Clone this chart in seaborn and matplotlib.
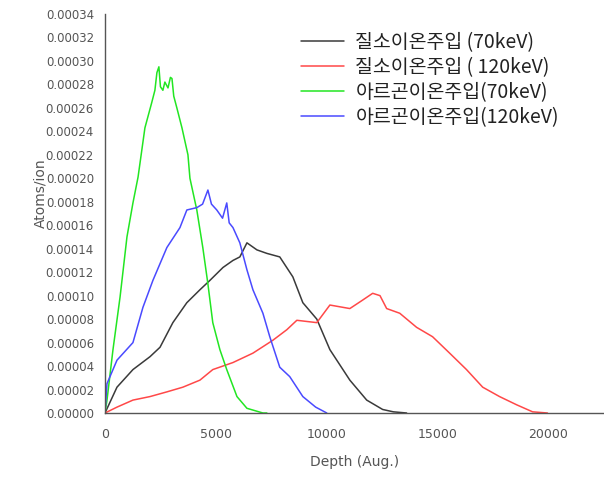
import matplotlib
matplotlib.use("Agg")
import matplotlib.pyplot as plt
import seaborn as sns
import numpy as np
import pandas as pd
from matplotlib.ticker import MultipleLocator, FormatStrFormatter

# ---- data (depth in Angstrom, value in units of 1e-5 atoms/ion) ----
labels = ["질소이온주입 (70keV)", "질소이온주입 ( 120keV)", "아르곤이온주입(70keV)", "아르곤이온주입(120keV)"]
colors = ["#3a3a3a", "#ff4848", "#22e622", "#4a4aff"]

n70_x = [0, 540, 1260, 2030, 2480, 3060, 3690, 4280, 4730, 5320, 5770, 6080, 6400, 6850,
         7300, 7880, 8470, 8920, 9550, 10140, 11040, 11800, 12520, 13000, 13600]
n70_y = [0, 2.2, 3.7, 4.8, 5.6, 7.7, 9.4, 10.5, 11.3, 12.4, 13.0, 13.3, 14.5, 13.9,
         13.6, 13.3, 11.6, 9.4, 8.0, 5.4, 2.8, 1.1, 0.3, 0.1, 0]

n120_x = [0, 540, 1260, 2030, 2790, 3510, 4280, 4860, 5770, 6670, 7570, 8200, 8650, 9550,
          10140, 11040, 11600, 12070, 12400, 12700, 13290, 14050, 14770, 15540, 16300,
          17030, 17790, 18560, 19280, 19950]
n120_y = [0, 0.5, 1.1, 1.4, 1.8, 2.2, 2.8, 3.7, 4.3, 5.1, 6.2, 7.1, 7.9, 7.7,
          9.2, 8.9, 9.6, 10.2, 10.0, 8.9, 8.5, 7.3, 6.5, 5.1, 3.7,
          2.2, 1.4, 0.7, 0.1, 0]

ar70_x = [0, 90, 360, 680, 990, 1260, 1490, 1800, 2100, 2250, 2340, 2430, 2500, 2610, 2700,
          2840, 2950, 3020, 3100, 3240, 3470, 3740, 3830, 4140, 4410, 4640, 4860, 5180,
          5490, 5950, 6400, 7120, 7300]
ar70_y = [0, 1.1, 5.4, 9.9, 15.0, 17.9, 20.1, 24.3, 26.4, 27.5, 29.0, 29.5, 27.8, 27.5, 28.2,
          27.7, 28.6, 28.5, 27.0, 26.0, 24.3, 22.0, 20.0, 17.3, 14.1, 11.0, 7.7, 5.4,
          3.7, 1.4, 0.4, 0.0, 0.0]

ar120_x = [0, 90, 540, 1260, 1710, 2160, 2790, 3380, 3690, 4140, 4400, 4640, 4800, 5040,
           5300, 5490, 5600, 5770, 6080, 6400, 6670, 7120, 7430, 7880, 8330, 8920, 9500, 10000]
ar120_y = [0, 2.5, 4.5, 6.0, 9.0, 11.3, 14.1, 15.8, 17.3, 17.5, 17.8, 19.0, 17.8, 17.3,
           16.6, 17.9, 16.2, 15.8, 14.5, 12.2, 10.5, 8.5, 6.5, 3.9, 3.1, 1.4, 0.5, 0]

series = [(n70_x, n70_y), (n120_x, n120_y), (ar70_x, ar70_y), (ar120_x, ar120_y)]

sns.set_theme(style="white")
plt.rcParams['font.family'] = ['DejaVu Sans']

fig = plt.figure(figsize=(6.04, 4.83), dpi=100)
ax = fig.add_axes([105/604, 1 - 413/483, 499/604, 399/483])

for (xs, ys), lab, col in zip(series, labels, colors):
    df = pd.DataFrame({"depth": xs, "val": np.array(ys) * 1e-5})
    sns.lineplot(data=df, x="depth", y="val", color=col, linewidth=1.1, label=lab,
                 ax=ax, sort=False, estimator=None)

ax.set_xlim(0, 22500)
ax.set_ylim(0, 0.00034)
ax.xaxis.set_major_locator(MultipleLocator(5000))
ax.xaxis.set_minor_locator(MultipleLocator(2500))
ax.yaxis.set_major_locator(MultipleLocator(0.00002))
ax.yaxis.set_minor_locator(MultipleLocator(0.00001))
ax.yaxis.set_major_formatter(FormatStrFormatter('%.5f'))

for s in ["top", "right"]:
    ax.spines[s].set_visible(False)
for s in ["left", "bottom"]:
    ax.spines[s].set_color("#555555")
    ax.spines[s].set_linewidth(1.0)

ax.tick_params(axis="both", which="major", direction="out", length=5, width=1,
               color="#555555", labelcolor="#555555")
ax.tick_params(axis="both", which="minor", direction="out", length=3, width=1,
               color="#555555")
ax.tick_params(axis="y", labelsize=8.5, pad=3)
ax.tick_params(axis="x", labelsize=9, pad=6)

ax.set_xlabel("Depth (Aug.)", fontsize=10, color="#555555", labelpad=10)
ax.set_ylabel("Atoms/ion", fontsize=10, color="#555555", labelpad=8)
ax.yaxis.set_label_coords(-0.115, 0.55)

leg = ax.legend(loc="upper left", bbox_to_anchor=(301/604, 1 - 32/483),
                bbox_transform=fig.transFigure, frameon=False, handlelength=2.2,
                handletextpad=0.6, labelspacing=0.2, borderaxespad=0, borderpad=0,
                prop={"family": ["Noto Sans CJK KR", "DejaVu Sans"], "size": 14})
for t in leg.get_texts():
    t.set_color("#222222")

fig.savefig("out.png", dpi=100)
